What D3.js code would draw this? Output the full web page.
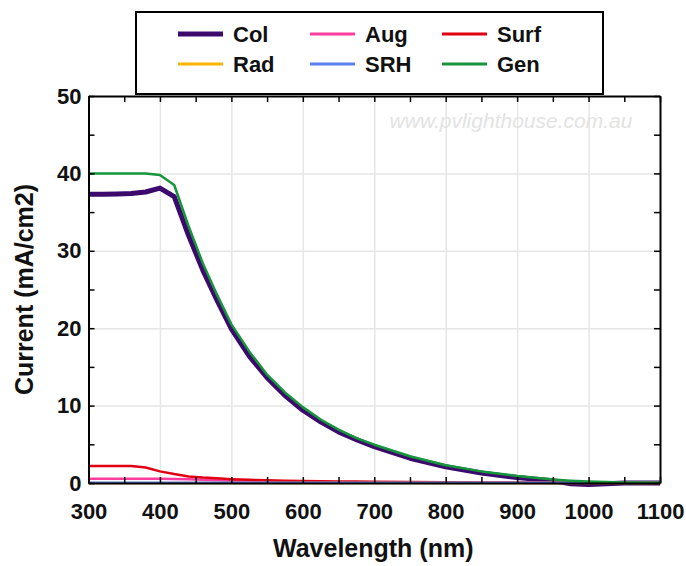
<!DOCTYPE html>
<html>
<head>
<meta charset="utf-8">
<script src="https://cdn.jsdelivr.net/npm/d3@7"></script>
<style>
  body { margin: 0; background: #fff; }
  svg { display: block; font-family: "Liberation Sans", Arial, sans-serif; }
</style>
</head>
<body>
<svg id="chart" width="686" height="566"></svg>
<script>
// wavelength samples (nm)
const wavelength = [300, 320, 340, 360, 380, 400, 420, 440, 460, 480, 500, 525, 550, 575, 600, 625, 650, 675, 700, 750, 800, 850, 900, 950, 975, 1000, 1050, 1100];

// current losses / generation (mA/cm2)
const col  = [37.3, 37.3, 37.35, 37.4, 37.6, 38.1, 37.0, 32.0, 27.5, 23.6, 19.9, 16.4, 13.6, 11.3, 9.4, 7.9, 6.6, 5.6, 4.7, 3.2, 2.1, 1.3, 0.7, 0.3, -0.1, -0.2, 0, 0];
const aug  = [0.55, 0.55, 0.55, 0.55, 0.55, 0.54, 0.52, 0.48, 0.42, 0.36, 0.3, 0.25, 0.2, 0.17, 0.14, 0.12, 0.1, 0.09, 0.08, 0.06, 0.04, 0.03, 0.02, 0.015, 0.01, 0.01, 0.005, 0];
const surf = [2.2, 2.2, 2.2, 2.2, 2.0, 1.5, 1.15, 0.85, 0.7, 0.6, 0.5, 0.42, 0.35, 0.3, 0.26, 0.22, 0.2, 0.18, 0.16, 0.13, 0.1, 0.08, 0.07, 0.05, 0.05, 0.04, 0.03, 0.02];
const rad  = [0.01, 0.01, 0.01, 0.01, 0.01, 0.01, 0.01, 0.01, 0.01, 0.01, 0.01, 0.01, 0.01, 0.01, 0.01, 0.01, 0.01, 0.01, 0.01, 0.01, 0.01, 0.01, 0.01, 0.01, 0.01, 0.01, 0.01, 0.01];
const srh  = [0.02, 0.02, 0.02, 0.02, 0.02, 0.02, 0.02, 0.02, 0.02, 0.02, 0.02, 0.02, 0.02, 0.02, 0.02, 0.02, 0.02, 0.02, 0.02, 0.02, 0.02, 0.02, 0.02, 0.02, 0.02, 0.02, 0.02, 0.02];
const gen  = [40, 40, 40, 40, 40, 39.8, 38.5, 33.2, 28.4, 24.3, 20.5, 17.0, 14.0, 11.7, 9.8, 8.2, 6.9, 5.8, 4.95, 3.45, 2.3, 1.5, 0.9, 0.45, 0.3, 0.2, 0.08, 0.03];

const seriesNames = ["Col", "Aug", "Surf", "Rad", "SRH", "Gen"];
const seriesValues = [col, aug, surf, rad, srh, gen];
const seriesColors = ["#3c0a6c", "#ff3ca0", "#e00010", "#ffb400", "#5a7ff0", "#16963a"];
const seriesWidths = [5, 2.5, 2.5, 2.5, 2.5, 2.5];

const xTicks = d3.range(300, 1101, 50);
const yTicks = d3.range(0, 51, 5);

const svg = d3.select("#chart");
const mLeft = 88.5, mRight = 660, mTop = 96, mBottom = 483;

const x = d3.scaleLinear().domain([300, 1100]).range([mLeft, mRight]);
const y = d3.scaleLinear().domain([0, 50]).range([mBottom, mTop]);

// grid lines
svg.append("g")
    .attr("transform", `translate(0,${mBottom})`)
    .call(d3.axisBottom(x).tickValues(d3.range(400, 1100, 100)).tickSize(-(mBottom - mTop)).tickFormat(""))
    .call(g => g.select(".domain").remove())
    .call(g => g.selectAll("line").attr("stroke", "#e6e6e6").attr("stroke-width", 1.5));
svg.append("g")
    .attr("transform", `translate(${mLeft},0)`)
    .call(d3.axisLeft(y).tickValues(d3.range(10, 50, 10)).tickSize(-(mRight - mLeft)).tickFormat(""))
    .call(g => g.select(".domain").remove())
    .call(g => g.selectAll("line").attr("stroke", "#e6e6e6").attr("stroke-width", 1.5));

// watermark
svg.append("text")
    .attr("x", 511).attr("y", 128)
    .attr("text-anchor", "middle")
    .attr("font-size", 21).attr("font-style", "italic")
    .attr("fill", "#e3e3e3")
    .text("www.pvlighthouse.com.au");

// lines
const line = d3.line()
    .x((d, i) => x(wavelength[i]))
    .y(d => y(d));

svg.append("g")
  .selectAll("path")
  .data(seriesValues)
  .join("path")
    .attr("fill", "none")
    .attr("stroke", (d, i) => seriesColors[i])
    .attr("stroke-width", (d, i) => seriesWidths[i])
    .attr("stroke-linejoin", "round")
    .attr("d", line);

// axes (ticks pointing inward)
const fmtX = d => d % 100 === 0 ? d : "";
const fmtY = d => d % 10 === 0 ? d : "";

function styleAxis(g) {
  g.select(".domain").attr("stroke", "#000").attr("stroke-width", 2);
  g.selectAll(".tick line").attr("stroke", "#000").attr("stroke-width", 1.5);
  g.selectAll(".tick text")
    .attr("font-family", "Liberation Sans, Arial, sans-serif")
    .attr("font-size", 22).attr("font-weight", "bold").attr("fill", "#111");
}

svg.append("g")
    .attr("transform", `translate(0,${mBottom})`)
    .call(d3.axisBottom(x).tickValues(xTicks).tickSizeInner(-6).tickSizeOuter(0).tickPadding(20).tickFormat(fmtX))
    .call(styleAxis);
svg.append("g")
    .attr("transform", `translate(0,${mTop})`)
    .call(d3.axisTop(x).tickValues(xTicks).tickSizeInner(-6).tickSizeOuter(0).tickFormat(""))
    .call(styleAxis);
svg.append("g")
    .attr("transform", `translate(${mLeft},0)`)
    .call(d3.axisLeft(y).tickValues(yTicks).tickSizeInner(-6).tickSizeOuter(0).tickPadding(7).tickFormat(fmtY))
    .call(styleAxis);
svg.append("g")
    .attr("transform", `translate(${mRight},0)`)
    .call(d3.axisRight(y).tickValues(yTicks).tickSizeInner(-6).tickSizeOuter(0).tickFormat(""))
    .call(styleAxis);

// axis titles
svg.append("text")
    .attr("x", (mLeft + mRight) / 2 - 1).attr("y", 557)
    .attr("text-anchor", "middle")
    .attr("font-size", 25).attr("font-weight", "bold").attr("fill", "#111")
    .text("Wavelength (nm)");
svg.append("text")
    .attr("transform", `translate(33,${(mTop + mBottom) / 2}) rotate(-90)`)
    .attr("text-anchor", "middle")
    .attr("font-size", 25).attr("font-weight", "bold").attr("fill", "#111")
    .text("Current (mA/cm2)");

// legend: Col, Aug, Surf / Rad, SRH, Gen
const legend = svg.append("g");
legend.append("rect")
    .attr("x", 136).attr("y", 12)
    .attr("width", 467).attr("height", 82)
    .attr("fill", "#fff").attr("stroke", "#000").attr("stroke-width", 2);

legend.selectAll(".color-legend")
  .data(seriesNames)
  .join("g")
    .attr("class", "color-legend")
    .attr("transform", (d, i) => `translate(${178 + (i % 3) * 132},${34 + Math.floor(i / 3) * 30})`)
    .call(g => g.append("line")
        .attr("x1", 0).attr("x2", 45)
        .attr("stroke", (d, i) => seriesColors[i])
        .attr("stroke-width", (d, i) => seriesWidths[i] === 5 ? 5 : 3))
    .call(g => g.append("text")
        .attr("x", 55).attr("dy", "0.35em")
        .attr("font-size", 22).attr("font-weight", "bold").attr("fill", "#111")
        .text(d => d));
</script>
</body>
</html>
